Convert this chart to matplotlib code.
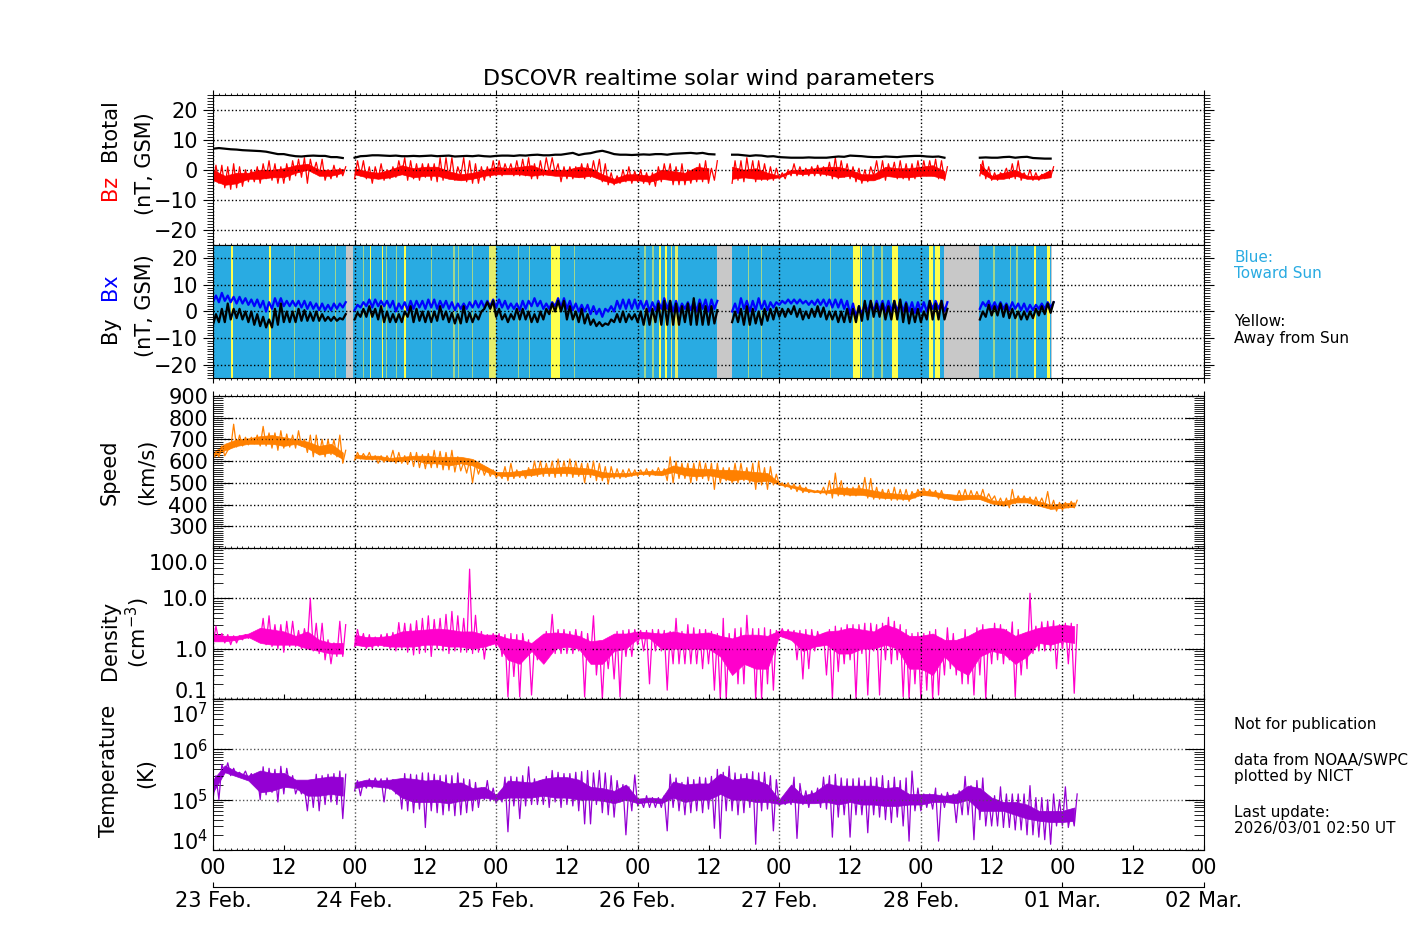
import matplotlib
matplotlib.use("Agg")
import matplotlib.pyplot as plt
import numpy as np
from matplotlib.ticker import FixedLocator, LogLocator, MultipleLocator, NullFormatter
from matplotlib.transforms import ScaledTranslation

n = float("nan")

# --- hourly low / high readings, one row per day (23 Feb ... 01 Mar) ---
btotal = [
    [7.0, 7.2, 7.0, 6.8, 6.7, 6.5, 6.4, 6.3, 6.2, 6.0, 5.6, 5.2, 5.2, 4.8, 4.5, 4.4, 4.6, 4.7, 4.6, 4.6, 4.2, 4.2, 3.9, n],
    [4.0, 4.5, 4.6, 4.8, 4.8, 4.7, 4.6, 4.7, 4.5, 4.5, 4.6, 4.5, 4.6, 4.7, 4.5, 4.6, 4.7, 4.4, 4.5, 4.6, 4.5, 4.7, 4.5, 4.4],
    [4.6, 4.7, 4.7, 4.6, 4.8, 4.7, 4.9, 5.0, 4.8, 4.8, 5.0, 5.0, 5.3, 5.6, 4.9, 5.3, 5.5, 6.0, 6.3, 5.8, 5.2, 5.0, 5.0, 4.9],
    [5.0, 5.1, 5.0, 5.2, 5.2, 5.0, 5.3, 5.4, 5.5, 5.6, 5.4, 5.6, 5.2, 5.1, n, n, 5.0, 5.0, 4.8, 4.6, 4.8, 4.7, 4.4, 4.5],
    [4.2, 4.1, 4.0, 4.0, 4.0, 4.1, 4.0, 4.0, 4.0, 4.2, 4.4, 4.3, 4.7, 4.6, 4.5, 4.3, 4.2, 4.2, 4.4, 4.3, 4.2, 4.4, 4.5, 4.6],
    [4.6, 4.4, 4.3, 4.4, 4.0, n, n, n, n, n, 4.0, 4.1, 4.0, 4.0, 4.2, 4.3, 4.0, 4.2, 4.3, 3.9, 3.8, 3.7, 3.7, n],
]
bz_lo = [
    [-5, -4.5, -6, -6.5, -6, -5.5, -4, -4, -4.5, -3, -3.5, -4.5, -4.5, -3.5, -2, -2.5, -4.5, -1, -2, -3.5, -3, -2.5, -2, n],
    [-3, -2, -3, -4.5, -3, -3.5, -3, -2.5, -1.5, -3.5, -3, -3.5, -2.5, -3.5, -4, -3.5, -3, -3.5, -2, -4, -4.5, -4.5, -3.5, -2.5],
    [-2, -2, -1, -2, -2, -2, -3, -3, -2, -1, -1, -4, -3, -3, -2.5, -3, -2.5, -2, -4, -5, -5, -4.5, -4, -4.5],
    [-4, -4.5, -5, -5.5, -4, -3, -5, -5, -5, -4.5, -4, -4, -4.5, -3.5, n, n, -4.5, -3.5, -4, -2.5, -4, -3.5, -3.5, -3.5],
    [-3, -3, -2, -2, -2, -2, -2, -2, -2, -3, -3, -2.5, -3, -4, -4.5, -4, -2, -3, -3.5, -2, -3, -3, -3.5, -3],
    [-2.5, -2, -2, -3, -3.5, n, n, n, n, n, -2, -3, -3.5, -3.5, -2, -3, -3, -3.5, -3, -3.5, -3.5, -3, -2.5, n],
]
bz_hi = [
    [1.5, 1.5, 1, 2, 1, 0, 0, 1, 2, 3, 2, 1, 2, 3, 3.5, 4, 3.5, 2.5, 3.5, 0, 1.5, 0.5, 1, n],
    [3, 3, 1, 1, 2, 0, 1, 3, 4, 3, 2, 2, 2, 2, 4, 4, 4, 1, 4, 3, 2, 1, 1, 3],
    [3, 2, 2, 3, 3.5, 4, 2, 3, 4, 4, 2, 1, 1, 1, 2, 2, 3, 3.5, 2, -1, -2, 0, 1, -0.5],
    [0, -1, -1, 1, 2, 2, 1, 2, 0, 0, 2, 3, 0.5, 3, n, n, 3, 3, 4, 3, 3, 2, 1, 0.5],
    [-1, 0, 2, 1, 0.5, 1, 1.5, 1, 2.5, 4, 3, 2, 1, 0.5, 0, 1, 3, 3, 2, 2.5, 3, 2, 2, 3],
    [3, 3, 3.5, 3, 1, n, n, n, n, n, 3, 1, -1, -1, 0.5, 2, 3, -1, 0, -1, -1.5, -1, 1, n],
]
bx_lo = [
    [3.5, 3.5, 4, 3.5, 3, 3, 2.5, 2, 1.5, 0, 1, 2, 2, 2, 2, 1.5, 1, 1, 0.5, 0.5, 0.5, 1, 1.5, n],
    [0.5, 1.5, 2, 1.5, 2, 2, 1.5, 0, 1, 0.5, 1, 1.5, 1, 1.5, 1, 1.5, 1, 0.5, 1, 1, 1.5, 1.5, 1.5, 2],
    [1.5, 1.5, 1, 1, 0.5, 1, 2, 2, 1, 1, 2, 1.5, 1, 0.5, 0, 0, -1, -1, -2, 0, 0, 1, 1, 1],
    [1, 1, 0, 0.5, 1, 1, 0, 0, 1, 0.5, 0, 1, 0, 1, n, n, 0, -0.5, 1, 0, 0.5, 1, 0.5, 1.5],
    [2.5, 3, 3, 3, 3, 2.5, 2.5, 2.5, 2, 1.5, 1.5, 1, -1, -2, -1, 0, 0, 0.5, 0, 0, 0, 0, 0, -0.5],
    [0, 0, 1, 1, 0, n, n, n, n, n, 1, 2, 1, 1, 1, 0.5, 1, 0.5, 0, 0.5, 1, 1, 1.5, n],
]
bx_hi = [
    [6, 7, 6, 5.5, 5.5, 5, 4.5, 4.5, 4, 3.5, 5, 5, 4, 4, 4, 4, 3.5, 3, 3, 2.5, 3, 3, 3.5, n],
    [2.5, 3.5, 4.5, 4.5, 4, 4, 4, 3, 3.5, 4, 4, 4, 4.5, 4.5, 4, 4, 3.5, 3, 3, 3.5, 4, 4, 4, 4.5],
    [4.5, 4, 3, 3, 4, 4, 5, 4, 3, 3.5, 5, 5, 4, 3, 2.5, 2.5, 2, 1, 1, 2, 4, 4.5, 4.5, 4.5],
    [4, 4, 3.5, 4, 5, 4, 4, 3, 3.5, 4, 4.5, 4.5, 4.5, 4, n, n, 3, 5, 4, 4, 5, 4, 3.5, 3.5],
    [4, 4.5, 4.5, 4.5, 4, 4, 4.5, 4.5, 4.5, 4.5, 4.5, 4, 3, 2, 3, 4, 4, 4, 4, 4, 4, 3.5, 3.5, 3.5],
    [3.5, 4, 4, 4, 3.5, n, n, n, n, n, 3.5, 4, 3.5, 3.5, 3, 3.5, 3, 3, 2.5, 2.5, 3, 3.5, 3.5, n],
]
by_lo = [
    [-5, -4, -4, -3, -2.5, -3, -4, -5, -5.5, -6, -6, -5, -4, -4, -4, -3.5, -3.5, -3.5, -3.5, -3.5, -3.5, -3.5, -3, n],
    [-3, -2, -2, -2, -3, -4, -4, -4, -4, -2, -4, -3.5, -4, -4, -3.5, -3, -4, -4.5, -4.5, -4, -4, -3, 1, 1],
    [-2, -3, -4, -3, -3, -3, -4, -4, -3, -1, 0, 0, -3, -3, -4, -4.5, -5, -5.5, -5.5, -5, -4, -4, -4, -3],
    [-4, -5, -5, -4, -5, -5, -5, -5, -4, -5, -5, -5, -5, -4.5, n, n, -4, -4, -5, -5, -4.5, -5, -3.5, -3],
    [-2, -2, -1, -2, -3, -2.5, -2, -2, -3, -3, -4, -4, -4, -4, -3.5, -3, -2, -2, -3, -3, -3, -4, -4.5, -4],
    [-4, -3, -3, -3, -3, n, n, n, n, n, -3, -2, -1.5, -1.5, -2, -2.5, -2.5, -3, -3, -2.5, -1.5, -1, -0.5, n],
]
by_hi = [
    [-1, 1, 3, 1, 1, 0, 0, -1, -2, -3, 1, 3, 0, 0, 1, 0.5, -0.5, 0, -1, -2, -2, -2.5, -1, n],
    [-0.5, 1, 2, 1, 2, 0, -1, -1, 0, 2, 1, 0, 0, 0, 2, 0, -0.5, -1, 2, -0.5, -1, 0, 3.5, 4],
    [1, -1, -1, 1, 1, 0, -1, 0, 1, 3, 4, 4, 2, 0, 1, -1, -3, -4, -4.5, -3, -1, 0, -1, -1],
    [0, 1, 1, 3, 4, 4, 3, 2, 3, 5, 3, 2, 2, 0.5, n, n, 0, 1, 2, 1, 0, 1, 1, 1.5],
    [1, 1, 2, 1, 0, 1, 2, 1.5, 0, 0, 0, 1, 1, 2, 4, 4, 3, 3, 2, 4, 4.5, 3, 1, 1],
    [0, 4, 3, 4, 1, n, n, n, n, n, 0, 2.5, 2, 3, 2.5, 1, 0, 0, 0, 1, 2, 3, 3.5, n],
]
speed_lo = [
    [610, 620, 625, 660, 665, 670, 675, 680, 670, 670, 660, 650, 660, 665, 660, 670, 640, 620, 630, 620, 630, 620, 590, n],
    [605, 610, 610, 605, 590, 595, 600, 590, 590, 585, 575, 570, 565, 570, 570, 560, 560, 550, 555, 545, 500, 540, 535, 530],
    [525, 520, 510, 520, 525, 520, 530, 530, 530, 530, 525, 530, 530, 525, 530, 500, 525, 510, 510, 495, 520, 520, 525, 530],
    [530, 535, 530, 535, 535, 510, 500, 520, 520, 500, 510, 520, 510, 470, 500, 510, 500, 500, 510, 500, 470, 490, 470, 490],
    [490, 480, 470, 460, 455, 455, 455, 450, 445, 430, 440, 440, 440, 440, 445, 430, 425, 425, 425, 420, 420, 420, 415, 430],
    [440, 445, 440, 425, 425, 425, 430, 425, 425, 425, 425, 420, 420, 400, 395, 385, 405, 410, 410, 400, 400, 395, 380, 370],
    [375, 385, 385],
]
speed_hi = [
    [640, 670, 650, 770, 720, 710, 710, 720, 760, 730, 730, 740, 725, 720, 740, 700, 720, 720, 700, 700, 700, 720, 650, n],
    [640, 635, 640, 625, 625, 625, 650, 640, 625, 640, 640, 630, 635, 650, 645, 640, 650, 620, 595, 600, 590, 580, 570, 560],
    [545, 575, 590, 560, 555, 570, 600, 600, 590, 600, 610, 600, 610, 600, 590, 590, 600, 590, 575, 575, 565, 560, 565, 560],
    [560, 565, 560, 570, 565, 620, 600, 590, 590, 590, 600, 590, 590, 590, 570, 570, 590, 590, 570, 590, 600, 570, 575, 540],
    [500, 500, 495, 490, 480, 465, 465, 480, 510, 545, 510, 480, 480, 490, 525, 520, 480, 470, 470, 480, 470, 470, 460, 470],
    [475, 470, 465, 465, 445, 440, 465, 470, 465, 460, 470, 450, 440, 430, 430, 470, 440, 440, 435, 435, 430, 460, 420, 410],
    [410, 415, 420],
]
density_lo = [
    [1.2, 1.4, 1.3, 1.2, 1.3, 1.5, 1.6, 1.6, 1.4, 1.2, 1.1, 1.0, 0.85, 1.1, 1.1, 1.0, 1.2, 0.9, 0.8, 0.6, 0.5, 0.7, 0.7, n],
    [1.1, 1.2, 1.0, 1.0, 1.1, 1.1, 1.0, 0.9, 1.0, 0.85, 0.75, 0.8, 0.85, 0.7, 1.0, 0.9, 0.8, 0.9, 0.85, 0.85, 0.8, 0.85, 0.62, 1.2],
    [1.1, 0.7, 0.11, 0.28, 0.11, 0.8, 0.12, 0.6, 0.6, 0.8, 0.8, 0.8, 0.8, 0.8, 0.9, 0.11, 0.6, 0.3, 0.1, 0.4, 0.25, 0.11, 0.7, 0.7],
    [1.2, 0.9, 0.2, 0.9, 0.9, 0.15, 0.5, 0.5, 0.5, 0.5, 0.5, 0.4, 0.5, 0.15, 0.1, 0.1, 0.5, 0.2, 0.2, 0.5, 0.1, 0.1, 0.2, 0.15],
    [1.7, 1.7, 1.5, 0.6, 0.25, 0.4, 0.9, 1.2, 0.3, 0.1, 0.35, 0.5, 0.6, 0.1, 0.8, 0.12, 0.9, 0.12, 0.6, 0.5, 0.6, 0.11, 0.1, 0.2],
    [0.1, 0.15, 0.1, 0.12, 0.3, 0.4, 0.3, 0.2, 0.2, 0.12, 0.3, 0.1, 0.5, 0.6, 0.5, 0.6, 0.11, 0.3, 0.4, 0.8, 0.9, 0.9, 0.9, 0.4],
    [1.0, 0.5, 0.13],
]
density_hi = [
    [2.8, 2.0, 1.9, 1.8, 1.8, 1.9, 2.0, 2.0, 4.0, 4.5, 3.0, 3.0, 3.5, 3.5, 2.3, 2.5, 10, 3.2, 3.2, 1.5, 1.3, 3.5, 3.0, n],
    [2.4, 2.0, 1.9, 1.7, 1.9, 2.0, 2.1, 3.3, 3.2, 3.1, 3.6, 4.0, 4.5, 3.8, 4.0, 4.8, 5.5, 4.5, 4.0, 38, 4.6, 2.2, 1.9, 2.0],
    [2.0, 1.9, 2.0, 1.9, 2.0, 1.5, 1.3, 1.6, 2.2, 4.8, 2.4, 2.4, 2.2, 2.4, 2.2, 2.0, 4.5, 1.4, 1.3, 1.6, 2.2, 2.3, 2.4, 2.4],
    [2.3, 2.3, 2.4, 2.4, 2.3, 2.2, 4.0, 2.2, 3.0, 2.6, 2.4, 2.4, 2.2, 2.0, 4.0, 2.0, 2.5, 2.6, 4.6, 2.5, 2.5, 2.6, 2.4, 2.3],
    [2.5, 2.4, 2.3, 2.3, 2.4, 2.4, 2.2, 2.0, 2.4, 2.8, 2.6, 3.0, 3.0, 3.0, 3.2, 3.2, 3.0, 3.2, 4.2, 3.5, 3.0, 2.4, 2.0, 2.1],
    [2.0, 2.2, 2.4, 1.6, 2.6, 2.0, 1.5, 2.4, 1.8, 2.6, 3.0, 2.4, 3.2, 3.0, 2.4, 3.4, 2.4, 2.0, 12.6, 2.8, 3.4, 3.5, 3.6, 3.0],
    [3.2, 3.2, 3.0],
]
# temperature in thousands of K
temp_lo = [
    [100, 100, 340, 300, 300, 290, 260, 210, 100, 125, 140, 90, 130, 190, 130, 130, 60, 70, 60, 80, 90, 80, 42, n],
    [150, 120, 170, 170, 190, 90, 160, 130, 65, 60, 55, 65, 28, 60, 55, 50, 60, 48, 50, 55, 60, 70, 100, 95],
    [85, 90, 23, 75, 42, 75, 80, 80, 80, 70, 90, 70, 80, 75, 60, 33, 33, 80, 55, 50, 45, 90, 20, 60],
    [75, 70, 70, 70, 70, 24, 70, 60, 50, 55, 60, 55, 65, 27, 17, 60, 60, 50, 55, 70, 13, 60, 65, 24],
    [75, 80, 80, 17, 80, 70, 90, 70, 65, 18, 45, 50, 18, 50, 50, 22, 50, 45, 40, 35, 45, 30, 15, 60],
    [60, 70, 65, 15, 70, 90, 35, 50, 50, 16, 40, 30, 30, 30, 28, 28, 25, 25, 20, 20, 18, 16, 13, 30],
    [30, 28, 30],
]
temp_hi = [
    [300, 500, 540, 420, 350, 370, 330, 300, 450, 420, 400, 460, 420, 300, 190, 170, 240, 320, 300, 320, 330, 370, 320, n],
    [240, 230, 260, 270, 260, 270, 250, 220, 330, 320, 310, 340, 340, 320, 300, 310, 300, 340, 260, 250, 220, 170, 240, 170],
    [130, 280, 290, 280, 300, 450, 260, 240, 290, 380, 350, 330, 330, 350, 360, 380, 340, 380, 340, 300, 240, 200, 180, 310],
    [100, 120, 110, 110, 120, 320, 270, 220, 280, 250, 280, 270, 290, 400, 350, 460, 340, 320, 330, 360, 340, 350, 300, 250],
    [105, 110, 280, 210, 150, 150, 170, 280, 300, 320, 270, 260, 260, 270, 240, 280, 270, 300, 240, 280, 240, 270, 370, 170],
    [130, 130, 170, 130, 140, 130, 150, 290, 190, 240, 270, 110, 120, 180, 130, 130, 130, 130, 190, 110, 110, 100, 130, 100],
    [180, 60, 130],
]

# --- dense middle of each trace, read every 2 hours, one list per unbroken stretch ---
mag_starts = [0, 24, 88, 130]
plasma_starts = [0, 24]
bz_core_lo = [
    [-3.5, -5, -4.5, -3, -3, -2.5, -2.5, -1, 0, -2, -2, -1],
    [-1.5, -2.5, -3, -2.5, -1.5, -2.5, -2, -2, -3, -3.5, -3, -2, -1.5, -1.5, -1.5, -2, -1.5, -2, -2, -2.5, -2, -3.5, -4.5, -3.5, -3.5, -4, -3, -3.5, -3.5, -3, -3],
    [-3, -2.5, -3, -3, -2.5, -1, -1.5, -1, -1.5, -2.5, -2, -3.5, -3.5, -2, -2.5, -2.5, -2, -2, -3],
    [-1, -3, -3, -2, -3, -3, -2.5],
]
bz_core_hi = [
    [0, -2, -1, -1, 0, 0, 0.5, 1.5, 2, 0, 0, 0.3],
    [0.5, -0.5, -1, 0, 1.5, 0.5, 1, 1, -0.5, -1.5, -1, 0, 1, 0.5, 1, 1.5, 0, 0, 0, 1, 0.5, -1.5, -3, -1.5, -1.5, -2, 0, -0.5, -1, 1, 0.5],
    [1, 0, 0.5, -1, -2, 0, 0, 0.5, 1, 1, 0, -1.5, -1.5, 1, 0.5, 0.5, 1, 1.5, -0.5],
    [2, -2, -1, 0, -2, -2, 0],
]
speed_core_lo = [
    [620, 650, 670, 680, 680, 680, 670, 680, 660, 630, 640, 610],
    [615, 610, 610, 600, 600, 610, 590, 590, 580, 590, 580, 555, 535, 530, 535, 535, 545, 545, 545, 540, 540, 525, 530, 530, 540, 540, 535, 550, 535, 530, 535, 525, 510, 520, 505, 510, 492, 480, 465, 458, 455, 450, 445, 445, 435, 430, 428, 425, 445, 440, 430, 420, 425, 425, 405, 395, 410, 410, 395, 380, 385, 390],
]
speed_core_hi = [
    [640, 680, 700, 705, 715, 720, 710, 700, 690, 670, 680, 640],
    [630, 625, 625, 615, 620, 625, 625, 620, 620, 620, 610, 580, 550, 550, 555, 565, 570, 570, 575, 570, 565, 550, 545, 545, 550, 555, 555, 580, 570, 565, 565, 560, 560, 555, 550, 545, 500, 488, 478, 465, 465, 480, 475, 475, 465, 455, 450, 445, 465, 460, 450, 445, 445, 445, 420, 415, 430, 430, 415, 400, 405, 410],
]
density_core_lo = [
    [1.4, 1.4, 1.5, 1.7, 1.3, 1.2, 1.2, 1.2, 1.0, 0.9, 0.8, 0.8],
    [1.2, 1.1, 1.2, 1.1, 1.1, 1.1, 1.2, 1.2, 1.1, 1.1, 1.0, 1.1, 1.3, 0.6, 0.5, 0.9, 0.5, 1.0, 1.1, 1.0, 0.5, 0.5, 0.9, 1.0, 1.6, 1.6, 1.0, 1.0, 1.0, 1.0, 1.0, 0.7, 0.3, 0.5, 0.4, 0.4, 1.8, 1.5, 0.9, 1.1, 1.2, 0.8, 0.8, 1.0, 1.0, 1.2, 1.0, 0.4, 0.4, 0.3, 0.7, 0.4, 0.3, 0.7, 0.9, 0.8, 0.5, 0.7, 1.3, 1.2, 1.4, 1.3],
]
density_core_hi = [
    [2.0, 1.8, 1.8, 2.0, 2.6, 2.4, 2.2, 1.8, 2.2, 1.5, 1.3, 1.3],
    [1.9, 1.7, 1.7, 1.8, 2.2, 2.3, 2.4, 2.5, 2.4, 2.2, 2.2, 1.9, 1.9, 1.6, 1.5, 1.3, 2.0, 2.1, 2.0, 1.8, 1.4, 1.5, 2.0, 2.0, 2.2, 2.1, 2.0, 2.2, 2.0, 2.0, 2.1, 1.8, 1.6, 1.9, 1.9, 1.8, 2.3, 2.2, 2.0, 1.8, 2.2, 2.3, 2.6, 2.4, 2.2, 3.0, 2.5, 1.8, 1.8, 2.0, 1.5, 1.5, 1.8, 2.4, 2.6, 2.5, 1.8, 2.2, 2.6, 2.8, 3.0, 2.8],
]
temp_core_lo = [
    [140, 350, 290, 240, 140, 150, 180, 170, 120, 120, 130, 120],
    [170, 190, 180, 170, 110, 90, 90, 90, 85, 95, 100, 110, 100, 110, 110, 110, 120, 110, 110, 100, 100, 95, 85, 100, 85, 90, 85, 110, 90, 100, 100, 130, 100, 100, 90, 90, 82, 90, 85, 85, 90, 80, 90, 80, 80, 75, 75, 80, 80, 90, 90, 85, 100, 60, 60, 60, 50, 42, 38, 36, 36, 38],
]
temp_core_hi = [
    [250, 480, 360, 300, 380, 340, 340, 250, 250, 270, 290, 280],
    [220, 250, 240, 250, 270, 260, 240, 250, 210, 220, 170, 180, 125, 240, 230, 220, 260, 280, 280, 250, 180, 170, 150, 200, 105, 110, 105, 230, 200, 210, 210, 330, 250, 270, 250, 200, 100, 200, 120, 140, 210, 190, 190, 190, 190, 170, 180, 130, 130, 130, 120, 130, 190, 170, 110, 90, 90, 80, 60, 60, 60, 70],
]

# background sectors of the By/Bx panel, hours from 23 Feb 00 UT
blue_span = [0, 142.2]
gray_start = [22.5, 85.4, 123.9, 142.0]
gray_end = [23.7, 87.9, 129.8, 142.2]
yellow_start = [3.1, 9.5, 26.55, 28.6, 32.3, 57.3, 75.65, 76.65, 108.55, 109.8, 115.15, 121.3, 122.45, 139.15, 141.4]
yellow_end = [3.35, 9.8, 26.75, 28.8, 32.65, 58.8, 75.95, 76.95, 109.7, 110.0, 116.15, 122.1, 123.3, 139.55, 141.9]
mid_start = [46.85, 77.6, 78.3]
mid_end = [48.0, 77.8, 78.9]
pale_start = [13.7, 17.9, 20.6, 25.4, 29.3, 31.0, 36.95, 40.75, 41.5, 43.9, 51.7, 53.55, 61.15, 73.0, 74.5, 90.65, 92.85, 104.6, 111.8, 113.3, 132.3, 135.15, 136.2]
pale_end = [13.9, 18.1, 20.8, 25.6, 29.5, 31.2, 37.2, 40.95, 41.7, 44.1, 51.85, 53.7, 61.35, 73.4, 74.7, 90.95, 93.05, 104.75, 112.0, 113.5, 132.5, 135.35, 136.4]

day_labels = ["23 Feb.", "24 Feb.", "25 Feb.", "26 Feb.", "27 Feb.", "28 Feb.", "01 Mar.", "02 Mar."]
hour_labels = ["00", "12"] * 7 + ["00"]

W, H = 1417, 944
TICK_FS = 15
PT = 72 / 100  # one pixel in points


def zigzag(lo_days, hi_days):
    xs, ys = [], []
    for d, (lo, hi) in enumerate(zip(lo_days, hi_days)):
        for i, (a, b) in enumerate(zip(lo, hi)):
            xs += [d * 24 + i, d * 24 + i + 0.5]
            ys += [a, b]
    return np.array(xs), np.array(ys)


def hourly(days):
    xs, ys = [], []
    for d, row in enumerate(days):
        for i, v in enumerate(row):
            xs.append(d * 24 + i)
            ys.append(v)
    return np.array(xs), np.array(ys)


def trace(ax, lo_days, hi_days, core_lo, core_hi, starts, color, scale=1):
    # solid middle of the trace, then the swing between hourly extremes
    for start, a, b in zip(starts, core_lo, core_hi):
        t = start + 2 * np.arange(len(a))
        ax.fill_between(t, np.array(a) * scale, np.array(b) * scale, color=color, linewidth=0.5)
    t, y = zigzag(lo_days, hi_days)
    ax.plot(t, y * scale, color=color, linewidth=0.9)


def panel(top, bottom):
    return fig.add_axes([213 / W, 1 - bottom / H, (1204 - 213) / W, (bottom - top) / H])


def x_style(ax, bottom=False):
    ax.set_xlim(0, 168)
    ax.xaxis.set_major_locator(MultipleLocator(24))
    ax.xaxis.set_minor_locator(MultipleLocator(1))
    ax.set_xticklabels([])
    ax.tick_params(axis="x", which="major", direction="out", length=5 * PT, top=True, bottom=bottom, labelbottom=False)
    ax.tick_params(axis="x", which="minor", direction="out", length=2.5 * PT, top=True, bottom=bottom)
    ax.grid(True, axis="x", which="major", color="black", linestyle=":", linewidth=1)


def y_style(ax, outward):
    if outward:
        d, maj, mnr = "out", 10, 6
    else:
        d, maj, mnr = "in", 19, 10
    ax.tick_params(axis="y", which="major", direction=d, length=maj * PT, left=True, right=True, labelsize=TICK_FS)
    ax.tick_params(axis="y", which="minor", direction=d, length=mnr * PT, left=True, right=True)
    ax.grid(True, axis="y", which="major", color="black", linestyle=":", linewidth=1)


def shift_edge_labels(ax, idx_px):
    # first / last labels are pushed inside the panel
    labels = ax.get_yticklabels()
    for i, px in idx_px.items():
        off = ScaledTranslation(0, px / 100, fig.dpi_scale_trans)
        labels[i].set_transform(labels[i].get_transform() + off)


def label(x, y, text, color="black", size=TICK_FS, rotation=90):
    fig.text(x / W, 1 - y / H, text, color=color, fontsize=size, rotation=rotation, ha="center", va="center")


def note(y, text, color="black"):
    fig.text(1234 / W, 1 - y / H, text, color=color, fontsize=11, ha="left", va="center")


fig = plt.figure(figsize=(W / 100, H / 100), dpi=100)

# --- Btotal / Bz ---
ax1 = panel(94.5, 245)
trace(ax1, bz_lo, bz_hi, bz_core_lo, bz_core_hi, mag_starts, "red")
x, y = hourly(btotal)
ax1.plot(x, y, color="black", linewidth=1.6)
ax1.set_ylim(-25, 25)
ax1.yaxis.set_major_locator(FixedLocator([-20, -10, 0, 10, 20]))
ax1.yaxis.set_minor_locator(MultipleLocator(1))
ax1.set_yticklabels(["\u221220", "\u221210", "0", "10", "20"])
x_style(ax1)
y_style(ax1, True)

# --- By / Bx on sector colours ---
ax2 = panel(245, 378)
ax2.axvspan(blue_span[0], blue_span[1], color="#29abe2", linewidth=0)
for a, b in zip(pale_start, pale_end):
    ax2.axvspan(a, b, color="#9fd68f", linewidth=0)
for a, b in zip(mid_start, mid_end):
    ax2.axvspan(a, b, color="#e6ee6a", linewidth=0)
for a, b in zip(yellow_start, yellow_end):
    ax2.axvspan(a, b, color="#ffff4d", linewidth=0)
for a, b in zip(gray_start, gray_end):
    ax2.axvspan(a, b, color="#c8c8c8", linewidth=0)
x, y = zigzag(bx_lo, bx_hi)
ax2.plot(x, y, color="blue", linewidth=1.6)
x, y = zigzag(by_lo, by_hi)
ax2.plot(x, y, color="black", linewidth=1.6)
ax2.set_ylim(-25, 25)
ax2.yaxis.set_major_locator(FixedLocator([-20, -10, 0, 10, 20]))
ax2.yaxis.set_minor_locator(MultipleLocator(1))
ax2.set_yticklabels(["\u221220", "\u221210", "0", "10", "20"])
x_style(ax2, bottom=True)
y_style(ax2, True)

# --- Speed ---
ax3 = panel(396, 548)
trace(ax3, speed_lo, speed_hi, speed_core_lo, speed_core_hi, plasma_starts, "#ff8000")
ax3.set_ylim(200, 900)
ax3.yaxis.set_major_locator(FixedLocator([300, 400, 500, 600, 700, 800, 900]))
ax3.yaxis.set_minor_locator(MultipleLocator(10))
x_style(ax3)
y_style(ax3, False)

# --- Density ---
ax4 = panel(548, 699)
trace(ax4, density_lo, density_hi, density_core_lo, density_core_hi, plasma_starts, "#ff00cc")
ax4.set_yscale("log")
ax4.set_ylim(0.1, 100)
ax4.yaxis.set_major_locator(FixedLocator([0.1, 1, 10, 100]))
ax4.yaxis.set_minor_locator(LogLocator(base=10, subs=np.arange(2, 10), numticks=10))
ax4.yaxis.set_minor_formatter(NullFormatter())
ax4.set_yticklabels(["0.1", "1.0", "10.0", "100.0"])
x_style(ax4)
y_style(ax4, False)
shift_edge_labels(ax4, {0: 9, 3: -14})

# --- Temperature ---
ax5 = panel(699, 850)
trace(ax5, temp_lo, temp_hi, temp_core_lo, temp_core_hi, plasma_starts, "#9400d3", scale=1e3)
ax5.set_yscale("log")
ax5.set_ylim(1e4, 1e7)
ax5.yaxis.set_major_locator(FixedLocator([1e4, 1e5, 1e6, 1e7]))
ax5.yaxis.set_minor_locator(LogLocator(base=10, subs=np.arange(2, 10), numticks=10))
ax5.yaxis.set_minor_formatter(NullFormatter())
ax5.set_yticklabels(["$10^{4}$", "$10^{5}$", "$10^{6}$", "$10^{7}$"])
y_style(ax5, False)
ax5.grid(True, axis="y", which="major", color="#555555", linestyle=":", linewidth=1)
shift_edge_labels(ax5, {0: 10, 3: -14})
ax5.set_xlim(0, 168)
ax5.set_xticks(np.arange(0, 169, 12))
ax5.set_xticklabels(hour_labels)
ax5.xaxis.set_minor_locator(MultipleLocator(1))
ax5.tick_params(axis="x", which="major", direction="in", length=5 * PT, labelsize=TICK_FS, pad=6, top=False)
ax5.tick_params(axis="x", which="minor", direction="in", length=2.5 * PT, top=False)
for d in range(1, 7):
    ax5.axvline(d * 24, color="#555555", linestyle=":", linewidth=1)
top5 = ax5.secondary_xaxis("top")
top5.set_xticks(np.arange(0, 169, 12))
top5.xaxis.set_minor_locator(MultipleLocator(1))
top5.tick_params(axis="x", which="major", direction="out", length=5 * PT, labeltop=False)
top5.tick_params(axis="x", which="minor", direction="out", length=2.5 * PT)

# --- date axis under the panels ---
ax6 = fig.add_axes([213 / W, 1 - 887 / H, (1204 - 213) / W, 1 / H])
ax6.set_xlim(0, 168)
ax6.set_xticks(np.arange(0, 169, 24))
ax6.set_xticklabels(day_labels)
ax6.set_yticks([])
ax6.patch.set_visible(False)
for s in ["top", "left", "right"]:
    ax6.spines[s].set_visible(False)
ax6.tick_params(axis="x", direction="in", length=5 * PT, labelsize=TICK_FS, pad=3)

fig.text((483 + 935) / 2 / W, 1 - 79 / H, "DSCOVR realtime solar wind parameters", fontsize=TICK_FS + 1, ha="center", va="center")

label(110, 130, "Btotal")
label(110, 187, "Bz", color="red")
label(145, 164, "(nT, GSM)")
label(110, 287, "Bx", color="blue")
label(110, 330, "By")
label(145, 306, "(nT, GSM)")
label(110, 472, "Speed")
label(147, 472, "(km/s)")
label(110, 640, "Density")
label(138, 633, "(cm$^{-3}$)")
label(109, 771, "Temperature")
label(146, 773, "(K)")

note(257, "Blue:", color="#29abe2")
note(273, "Toward Sun", color="#29abe2")
note(322, "Yellow:")
note(339, "Away from Sun")
note(725, "Not for publication")
note(760, "data from NOAA/SWPC")
note(777, "plotted by NICT")
note(812, "Last update:")
note(829, "2026/03/01 02:50 UT")

fig.savefig("out.png", dpi=100)
